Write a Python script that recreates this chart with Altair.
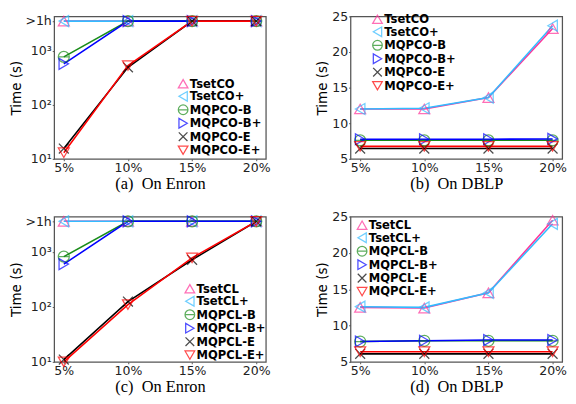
import altair as alt
import pandas as pd

pcts = ["5%", "10%", "15%", "20%"]
co_names = ["TsetCO", "TsetCO+", "MQPCO-B", "MQPCO-B+", "MQPCO-E", "MQPCO-E+"]
cl_names = ["TsetCL", "TsetCL+", "MQPCL-B", "MQPCL-B+", "MQPCL-E", "MQPCL-E+"]

# (a) Enron, CO  (3600 means ">1h")
enron_tsetco = [3600, 3600, 3600, 3600]
enron_tsetco_p = [3600, 3600, 3600, 3600]
enron_mqpco_b = [780, 3600, 3600, 3600]
enron_mqpco_bp = [580, 3600, 3600, 3600]
enron_mqpco_e = [15.5, 500, 3600, 3600]
enron_mqpco_ep = [13, 540, 3600, 3600]

# (b) DBLP, CO
dblp_tsetco = [12.0, 12.0, 13.6, 23.3]
dblp_tsetco_p = [12.0, 12.1, 13.6, 23.7]
dblp_mqpco_b = [7.6, 7.6, 7.6, 7.6]
dblp_mqpco_bp = [7.75, 7.75, 7.75, 7.8]
dblp_mqpco_e = [6.45, 6.45, 6.45, 6.45]
dblp_mqpco_ep = [6.75, 6.75, 6.75, 6.75]

# (c) Enron, CL
enron_tsetcl = [3600, 3600, 3600, 3600]
enron_tsetcl_p = [3600, 3600, 3600, 3600]
enron_mqpcl_b = [820, 3600, 3600, 3600]
enron_mqpcl_bp = [600, 3600, 3600, 3600]
enron_mqpcl_e = [11, 125, 720, 3600]
enron_mqpcl_ep = [10, 110, 780, 3600]

# (d) DBLP, CL
dblp_tsetcl = [12.5, 12.4, 14.5, 24.5]
dblp_tsetcl_p = [12.6, 12.5, 14.5, 24.0]
dblp_mqpcl_b = [7.8, 7.9, 7.9, 7.9]
dblp_mqpcl_bp = [7.8, 7.9, 8.0, 8.0]
dblp_mqpcl_e = [6.1, 6.1, 6.1, 6.1]
dblp_mqpcl_ep = [6.4, 6.4, 6.4, 6.4]

colors = ["#ff3399", "#33bbff", "#1a8c1a", "#0000ff", "#000000", "#ff0000"]
theta = "M-1,0A1,1,0,1,1,1,0A1,1,0,1,1,-1,0ZM-1,0L1,0"
xmark = "M-0.9,-0.9L0.9,0.9M-0.9,0.9L0.9,-0.9"
shapes = ["triangle-up", "triangle-left", theta, "triangle-right", xmark, "triangle-down"]

FONT = "DejaVu Sans"
NB = "\u00a0"


def make_df(names, series):
    rows = []
    for i, (n, vals) in enumerate(zip(names, series)):
        for p, v in zip(pcts, vals):
            rows.append({"series": n, "pct": p, "t": v, "k": i})
    return pd.DataFrame(rows)


def panel(df, names, log, caption, lx, ly, height):
    common = dict(grid=False, tickSize=2, labelPadding=1, labelFontSize=13, labelFont=FONT,
                  titleFontSize=14, titleFont=FONT, titleFontWeight="normal",
                  domain=False, titlePadding=2)
    if log:
        yscale = alt.Scale(type="log", domain=[10, 4400], nice=False)
        yaxis = alt.Axis(
            title="Time (s)", values=[10, 100, 1000, 3600],
            labelExpr="datum.value >= 3000 ? '>1h' : datum.value >= 1000 ? '10³' : datum.value >= 100 ? '10²' : '10¹'",
            **common,
        )
    else:
        yscale = alt.Scale(domain=[5, 25], nice=False)
        yaxis = alt.Axis(title="Time (s)", values=[5, 10, 15, 20, 25], **common)
    xenc = alt.X("pct:N", sort=pcts, scale=alt.Scale(type="point", padding=0.15),
                 axis=alt.Axis(title=caption, labelAngle=0, grid=False, tickSize=2,
                               labelPadding=1,
                               labelFontSize=13, labelFont=FONT, domain=False,
                               titleFont="Liberation Serif", titleFontSize=17,
                               titleFontWeight="normal", titlePadding=2))
    yenc = alt.Y("t:Q", scale=yscale, axis=yaxis)
    leg = alt.Legend(title=None, orient="none", legendX=lx, legendY=ly,
                     labelFont=FONT, labelFontWeight="bold", labelFontSize=12,
                     labelColor="#000", symbolSize=100, symbolStrokeWidth=1.3,
                     rowPadding=-3, labelOffset=1, padding=0, labelLimit=200)
    color = alt.Color("series:N", sort=names,
                      scale=alt.Scale(domain=names, range=colors), legend=leg)
    shape = alt.Shape("series:N", sort=names,
                      scale=alt.Scale(domain=names, range=shapes), legend=leg)
    lines = alt.Chart(df).mark_line(strokeWidth=1.6).encode(
        x=xenc, y=yenc, color=color, order=alt.Order("k:Q"),
    )
    pts = alt.Chart(df).mark_point(filled=False, size=130, strokeWidth=1.3).encode(
        x=xenc, y=yenc, color=color, shape=shape,
    )
    return alt.layer(lines, pts).properties(width=220, height=height)


dfa = make_df(co_names, [enron_tsetco, enron_tsetco_p, enron_mqpco_b, enron_mqpco_bp, enron_mqpco_e, enron_mqpco_ep])
dfb = make_df(co_names, [dblp_tsetco, dblp_tsetco_p, dblp_mqpco_b, dblp_mqpco_bp, dblp_mqpco_e, dblp_mqpco_ep])
dfc = make_df(cl_names, [enron_tsetcl, enron_tsetcl_p, enron_mqpcl_b, enron_mqpcl_bp, enron_mqpcl_e, enron_mqpcl_ep])
dfd = make_df(cl_names, [dblp_tsetcl, dblp_tsetcl_p, dblp_mqpcl_b, dblp_mqpcl_bp, dblp_mqpcl_e, dblp_mqpcl_ep])

pa = panel(dfa, co_names, True, "(a)" + NB + NB + "On Enron", 128, 64, 148)
pb = panel(dfb, co_names, False, "(b)" + NB + NB + "On DBLP", 22, -3, 148)
pc = panel(dfc, cl_names, True, "(c)" + NB + NB + "On Enron", 135, 69, 151)
pd_ = panel(dfd, cl_names, False, "(d)" + NB + NB + "On DBLP", 6, 3, 151)

res = dict(color="independent", shape="independent")
chart = alt.concat(pa, pb, pc, pd_, columns=2,
                   spacing=alt.RowColnumber(row=18, column=45)).resolve_scale(
    y="independent", x="independent", **res
).resolve_legend(**res).configure_view(
    stroke="#555555", strokeWidth=1.3
).configure_axis(labelColor="#222", titleColor="#000", tickColor="#555").properties(
    padding={"left": 0, "top": -6, "right": 0, "bottom": 0}
)

chart.save("out.html", embed_options={"renderer": "svg", "actions": False})
